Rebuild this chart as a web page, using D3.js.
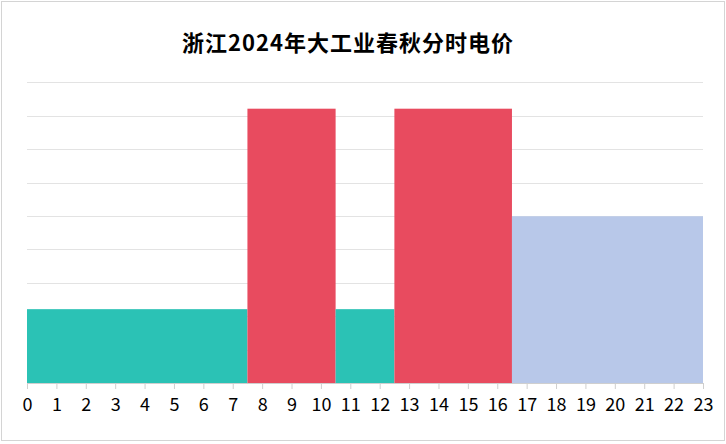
<!DOCTYPE html>
<html><head><meta charset="utf-8">
<script src="https://cdn.jsdelivr.net/npm/d3@7"></script>
<style>html,body{margin:0;padding:0;background:#fff;}svg{display:block;}</style>
</head><body>
<svg id="c" width="726" height="444"></svg>
<script>
const title = "浙江2024年大工业春秋分时电价";
const hours = d3.range(0, 24);
const periodStart = [0, 7.5, 10.5, 12.5, 16.5];
const periodEnd = [7.5, 10.5, 12.5, 16.5, 23];
const periodValue = [0.221, 0.821, 0.221, 0.821, 0.499];
const periodType = ["valley", "peak", "valley", "peak", "flat"];
const colors = {valley: "#2bc2b5", peak: "#e84b5f", flat: "#b8c8e9"};
const yTicks = [0, 0.1, 0.2, 0.3, 0.4, 0.5, 0.6, 0.7, 0.8, 0.9];

const svg = d3.select("#c");
svg.append("rect").attr("x", 1.5).attr("y", 1.5).attr("width", 723).attr("height", 439)
  .attr("fill", "#fff").attr("stroke", "#d4d4d4").attr("stroke-width", 1);

const x = d3.scaleLinear().domain([0, 23]).range([27, 703]);
const y = d3.scaleLinear().domain([0, 0.9]).range([383, 82.3]);

svg.append("g").selectAll("line").data(yTicks.slice(1)).join("line")
  .attr("x1", 27).attr("x2", 703)
  .attr("y1", d => Math.round(y(d)) + 0.5).attr("y2", d => Math.round(y(d)) + 0.5)
  .attr("stroke", "#e3e3e3").attr("stroke-width", 1);

svg.append("g").selectAll("rect").data(periodStart.map((s, i) => ({s, e: periodEnd[i], v: periodValue[i], t: periodType[i]})))
  .join("rect")
  .attr("x", d => x(d.s)).attr("width", d => x(d.e) - x(d.s))
  .attr("y", d => y(d.v)).attr("height", d => y(0) - y(d.v))
  .attr("fill", d => colors[d.t]);

const ax = svg.append("g").attr("transform", "translate(0,383)")
  .call(d3.axisBottom(x).tickValues(hours).tickFormat(d3.format("d")).tickSize(6).tickPadding(9));
ax.select(".domain").attr("stroke", "#cfcfcf");
ax.selectAll(".tick line").attr("stroke", "#cfcfcf");
ax.selectAll(".tick text").attr("fill", "#000").attr("font-size", 18)
  .attr("font-family", "'Noto Sans CJK SC', 'Noto Sans', sans-serif");

svg.append("text").attr("x", 348).attr("y", 51).attr("text-anchor", "middle")
  .attr("font-family", "'Noto Sans CJK SC', sans-serif").attr("font-weight", "bold")
  .attr("font-size", 22).attr("letter-spacing", 1).attr("fill", "#000").text(title);
</script>
</body></html>
